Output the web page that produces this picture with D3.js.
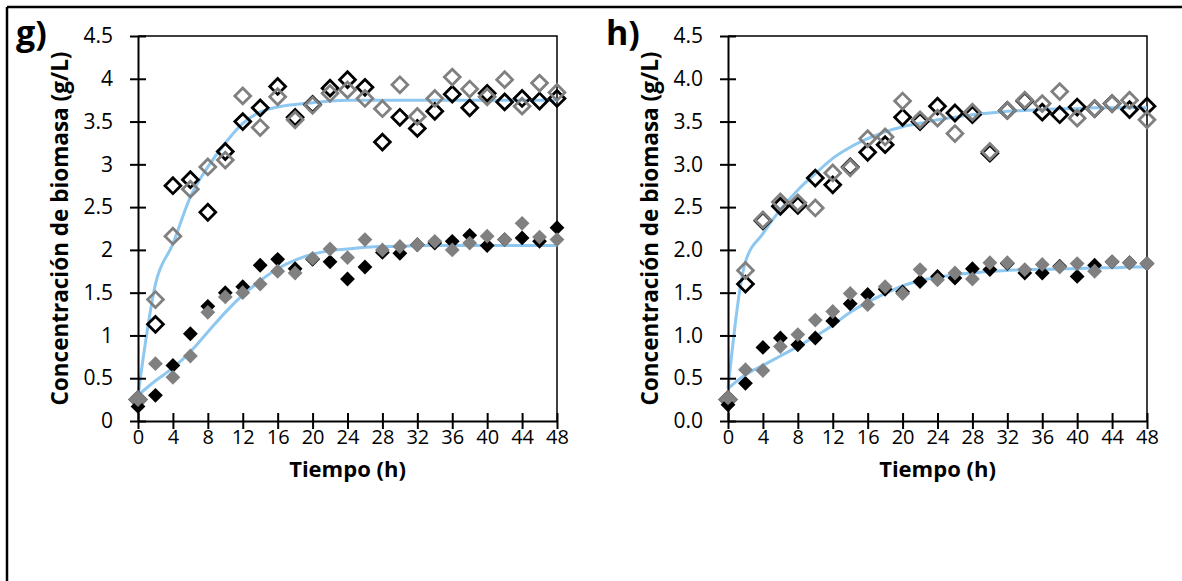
<!DOCTYPE html>
<html>
<head>
<meta charset="utf-8">
<script src="https://cdn.jsdelivr.net/npm/d3@7"></script>
<style>
  body { margin: 0; background: #fff; }
  svg { display: block; font-family: "Open Sans", "Noto Sans", sans-serif; }
</style>
</head>
<body>
<svg id="chart" width="1182" height="581"></svg>
<script>
// sampling times (h)
const hours = [0, 2, 4, 6, 8, 10, 12, 14, 16, 18, 20, 22, 24, 26, 28, 30, 32, 34, 36, 38, 40, 42, 44, 46, 48];
const xTicks = [0, 4, 8, 12, 16, 20, 24, 28, 32, 36, 40, 44, 48];
const yTicks = [0, 0.5, 1, 1.5, 2, 2.5, 3, 3.5, 4, 4.5];

// panel g)
const gOpenBlack = [0.25, 1.13, 2.75, 2.82, 2.44, 3.15, 3.50, 3.66, 3.91, 3.55, 3.70, 3.89, 3.99, 3.90, 3.26, 3.55, 3.42, 3.62, 3.82, 3.66, 3.83, 3.73, 3.77, 3.74, 3.77];
const gOpenGray = [0.25, 1.42, 2.16, 2.71, 2.97, 3.05, 3.80, 3.43, 3.79, 3.52, 3.69, 3.83, 3.87, 3.77, 3.65, 3.93, 3.56, 3.77, 4.02, 3.88, 3.79, 3.99, 3.68, 3.95, 3.84];
const gFilledBlack = [0.17, 0.30, 0.65, 1.02, 1.34, 1.50, 1.57, 1.82, 1.89, 1.78, 1.89, 1.86, 1.66, 1.80, 1.97, 1.96, 2.06, 2.08, 2.10, 2.17, 2.05, 2.12, 2.14, 2.10, 2.26];
const gFilledGray = [0.25, 0.67, 0.51, 0.76, 1.27, 1.45, 1.50, 1.60, 1.75, 1.73, 1.90, 2.01, 1.91, 2.12, 2.00, 2.04, 2.06, 2.10, 2.00, 2.08, 2.16, 2.12, 2.31, 2.15, 2.12];
const gFitOpen = [0.30, 1.60, 2.07, 2.62, 2.97, 3.25, 3.48, 3.61, 3.67, 3.70, 3.72, 3.74, 3.75, 3.75, 3.75, 3.75, 3.75, 3.75, 3.75, 3.75, 3.75, 3.75, 3.75, 3.75, 3.75];
const gFitFilled = [0.30, 0.47, 0.62, 0.81, 1.04, 1.27, 1.47, 1.64, 1.78, 1.88, 1.95, 1.99, 2.01, 2.03, 2.04, 2.04, 2.05, 2.05, 2.05, 2.05, 2.05, 2.05, 2.05, 2.05, 2.05];

// panel h)
const hOpenBlack = [0.25, 1.60, 2.34, 2.51, 2.52, 2.84, 2.76, 2.97, 3.14, 3.23, 3.55, 3.50, 3.68, 3.60, 3.58, 3.13, 3.63, 3.74, 3.61, 3.58, 3.67, 3.65, 3.71, 3.64, 3.68];
const hOpenGray = [0.25, 1.76, 2.35, 2.56, 2.55, 2.49, 2.90, 2.96, 3.30, 3.32, 3.74, 3.52, 3.54, 3.36, 3.61, 3.15, 3.63, 3.75, 3.71, 3.85, 3.54, 3.65, 3.71, 3.75, 3.52];
const hFilledBlack = [0.19, 0.44, 0.86, 0.97, 0.89, 0.97, 1.17, 1.37, 1.48, 1.54, 1.51, 1.63, 1.69, 1.67, 1.78, 1.77, 1.84, 1.73, 1.73, 1.81, 1.69, 1.82, 1.86, 1.85, 1.84];
const hFilledGray = [0.27, 0.60, 0.59, 0.87, 1.01, 1.18, 1.28, 1.49, 1.36, 1.57, 1.49, 1.77, 1.65, 1.73, 1.66, 1.85, 1.85, 1.77, 1.83, 1.80, 1.84, 1.75, 1.86, 1.85, 1.84];
const hFitOpen = [0.38, 1.86, 2.19, 2.47, 2.70, 2.89, 3.07, 3.20, 3.30, 3.38, 3.44, 3.48, 3.52, 3.55, 3.58, 3.60, 3.62, 3.63, 3.64, 3.65, 3.65, 3.66, 3.66, 3.66, 3.66];
const hFitFilled = [0.38, 0.54, 0.65, 0.76, 0.87, 0.99, 1.12, 1.27, 1.39, 1.49, 1.58, 1.64, 1.68, 1.71, 1.73, 1.75, 1.76, 1.77, 1.77, 1.78, 1.78, 1.79, 1.79, 1.80, 1.80];

var svg = d3.select("#chart");
var blue = "#8ec8f0";
var gray = "#808080";

// outer frame (only top and left edges are visible)
svg.append("line").attr("x1", 7).attr("x2", 1182).attr("y1", 7).attr("y2", 7)
  .attr("stroke", "#000").attr("stroke-width", 2.5);
svg.append("line").attr("x1", 7).attr("x2", 7).attr("y1", 7).attr("y2", 581)
  .attr("stroke", "#000").attr("stroke-width", 2.5);

function drawPanel(left, label, openBlack, openGray, filledBlack, filledGray, fitOpen, fitFilled, fmt) {
  var top = 36, bottom = 421, right = left + 419;
  var x = d3.scaleLinear().domain([0, 48]).range([left, right]);
  var y = d3.scaleLinear().domain([0, 4.5]).range([bottom, top]);
  var g = svg.append("g");

  // top and right frame of the plot area
  g.append("path")
    .attr("d", "M" + left + "," + top + "H" + right + "V" + bottom)
    .attr("fill", "none").attr("stroke", "#000").attr("stroke-width", 1.5);

  // fitted curves
  var line = d3.line().x((d, i) => x(hours[i])).y(d => y(d)).curve(d3.curveMonotoneX);
  [fitOpen, fitFilled].forEach(function(s) {
    g.append("path").attr("d", line(s))
      .attr("fill", "none").attr("stroke", blue).attr("stroke-width", 3);
  });

  // axes
  var yAxis = d3.axisLeft(y).tickValues(yTicks).tickSizeInner(0).tickSizeOuter(0).tickPadding(25)
    .tickFormat(fmt);
  var ya = g.append("g").attr("transform", "translate(" + left + ",0)").call(yAxis);
  ya.select(".domain").attr("stroke", "#000").attr("stroke-width", 2);
  ya.selectAll(".tick").append("line").attr("x1", -8).attr("x2", 8)
    .attr("stroke", "#000").attr("stroke-width", 2);
  ya.selectAll("text").attr("font-size", 21).attr("fill", "#000").attr("font-family", "Open Sans");

  var xAxis = d3.axisBottom(x).tickValues(xTicks).tickSizeInner(0).tickSizeOuter(0).tickPadding(9);
  var xa = g.append("g").attr("transform", "translate(0," + bottom + ")").call(xAxis);
  xa.select(".domain").attr("stroke", "#000").attr("stroke-width", 2);
  xa.selectAll(".tick").append("line").attr("y1", -8).attr("y2", 8)
    .attr("stroke", "#000").attr("stroke-width", 2);
  xa.selectAll("text").attr("font-size", 20).attr("fill", "#000").attr("font-family", "Open Sans");

  // markers: open diamonds first, filled diamonds on top
  var openSym = d3.symbol().type(d3.symbolSquare).size(125);
  var fillSym = d3.symbol().type(d3.symbolSquare).size(110);
  function markers(values, sym, fill, stroke) {
    g.append("g").selectAll("path").data(values).join("path")
      .attr("d", sym())
      .attr("transform", (d, i) => "translate(" + x(hours[i]) + "," + y(d) + ") rotate(45)")
      .attr("fill", fill)
      .attr("stroke", stroke)
      .attr("stroke-width", stroke === "none" ? 0 : 2.8);
  }
  markers(openBlack, openSym, "none", "#000");
  markers(openGray, openSym, "none", gray);
  markers(filledBlack, fillSym, "#000", "none");
  markers(filledGray, fillSym, gray, "none");

  // titles
  g.append("text")
    .attr("transform", "translate(" + (left - 70) + "," + ((top + bottom) / 2) + ") rotate(-90)")
    .attr("text-anchor", "middle").attr("font-size", 22.5).attr("font-weight", "bold")
    .text("Concentración de biomasa (g/L)");
  g.append("text").attr("x", (left + right) / 2).attr("y", 477)
    .attr("text-anchor", "middle").attr("font-size", 22).attr("font-weight", "bold")
    .text("Tiempo (h)");
  g.append("text").attr("x", left - 122).attr("y", 45)
    .attr("font-size", 34).attr("font-weight", "bold")
    .text(label);
}

drawPanel(138, "g)", gOpenBlack, gOpenGray, gFilledBlack, gFilledGray, gFitOpen, gFitFilled, d3.format(""));
drawPanel(728, "h)", hOpenBlack, hOpenGray, hFilledBlack, hFilledGray, hFitOpen, hFitFilled, d3.format(".1f"));
</script>
</body>
</html>
